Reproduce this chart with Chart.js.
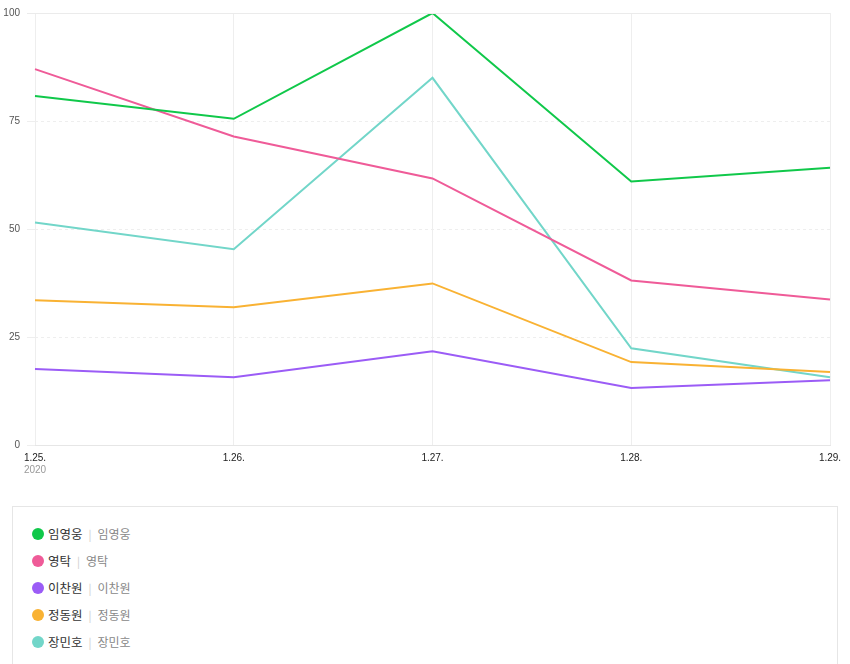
<!DOCTYPE html>
<html>
<head>
<meta charset="utf-8">
<script src="https://cdn.jsdelivr.net/npm/chart.js@4/dist/chart.umd.min.js"></script>
<style>
    body { margin: 0; background: #fff; font-family: "Noto Sans CJK KR", "Noto Sans", sans-serif; overflow: hidden; }
    .chart-wrap { position: absolute; left: 0; top: 0; width: 850px; height: 480px; }
    .legend-box { position: absolute; left: 12px; top: 506px; width: 826px; height: 200px; border: 1px solid #e6e6e6; box-sizing: border-box; padding-top: 13px; }
    .legend-row { display: flex; align-items: center; height: 27px; padding-left: 19px; font-size: 12.5px; }
    .legend-dot { width: 12px; height: 12px; border-radius: 50%; margin-right: 4px; }
    .legend-name { color: #333; font-weight: 400; }
    .legend-sep { color: #ccc; margin: 0 6px; font-size: 11px; }
    .legend-sub { color: #888; font-size: 12px; }
</style>
</head>
<body>
<div class="chart-wrap"><canvas id="voteChart"></canvas></div>
<div class="legend-box" id="legend"></div>
<script>
const labels = ['1.25.', '1.26.', '1.27.', '1.28.', '1.29.'];
const yearLabel = '2020';
const yTicks = [0, 25, 50, 75, 100];

const names = ['임영웅', '영탁', '이찬원', '정동원', '장민호'];
const colors = ['#10c84a', '#ef5b98', '#9b5cf6', '#f9b233', '#72d6c9'];

const limYoungwoong = [80.8, 75.5, 100, 61.0, 64.2];
const youngtak = [87.0, 71.4, 61.7, 38.1, 33.7];
const leeChanwon = [17.6, 15.7, 21.7, 13.2, 15.0];
const jeongDongwon = [33.5, 31.9, 37.4, 19.2, 16.9];
const jangMinho = [51.5, 45.3, 85.0, 22.4, 15.7];

const seriesValues = [limYoungwoong, youngtak, leeChanwon, jeongDongwon, jangMinho];

// draws the year under the first tick and the solid top line
const extrasPlugin = {
    id: 'extras',
    afterDraw(chart) {
        const ctx = chart.ctx;
        const x = chart.scales.x;
        const y = chart.scales.y;
        ctx.save();
        ctx.strokeStyle = '#ebebeb';
        ctx.lineWidth = 1;
        const top = Math.round(y.getPixelForValue(100)) + 0.5;
        ctx.beginPath();
        ctx.moveTo(chart.chartArea.left - 8, top);
        ctx.lineTo(chart.chartArea.right, top);
        ctx.stroke();
        ctx.fillStyle = '#999';
        ctx.font = '10px "Liberation Sans", sans-serif';
        ctx.textAlign = 'center';
        ctx.textBaseline = 'middle';
        ctx.fillText(yearLabel, x.getPixelForTick(0), 470);
        ctx.restore();
    }
};

new Chart(document.getElementById('voteChart').getContext('2d'), {
    type: 'line',
    data: {
        labels,
        datasets: names.map((name, i) => ({
            label: name,
            data: seriesValues[i],
            borderColor: colors[i],
            backgroundColor: colors[i],
            borderWidth: 2,
            pointRadius: 0,
            tension: 0
        }))
    },
    options: {
        responsive: true,
        maintainAspectRatio: false,
        animation: false,
        layout: { padding: { top: 12, right: 20, bottom: 0, left: 0 } },
        plugins: { legend: { display: false }, tooltip: { enabled: false } },
        scales: {
            x: {
                offset: false,
                grid: { color: '#eeeeee', drawTicks: false },
                border: { display: true, color: '#e6e6e6' },
                ticks: {
                    color: '#222',
                    font: { size: 10, family: '"Liberation Sans", sans-serif' },
                    padding: 7,
                    maxRotation: 0,
                    autoSkip: false
                },
                afterFit(scale) { scale.height = 35; }
            },
            y: {
                min: 0,
                max: 100,
                afterBuildTicks(scale) { scale.ticks = yTicks.map((v) => ({ value: v })); },
                grid: { color: '#eeeeee', tickLength: 8, tickColor: '#eeeeee' },
                border: { display: false, dash: [3, 3] },
                ticks: {
                    color: '#555',
                    font: { size: 10, family: '"Liberation Sans", sans-serif' },
                    padding: 7
                },
                afterFit(scale) { scale.width = 35; }
            }
        }
    },
    plugins: [extrasPlugin]
});

const legend = document.getElementById('legend');
names.forEach((name, i) => {
    const row = document.createElement('div');
    row.className = 'legend-row';
    row.innerHTML = `<span class="legend-dot" style="background:${colors[i]}"></span><span class="legend-name">${name}</span><span class="legend-sep">|</span><span class="legend-sub">${name}</span>`;
    legend.appendChild(row);
});
</script>
</body>
</html>
